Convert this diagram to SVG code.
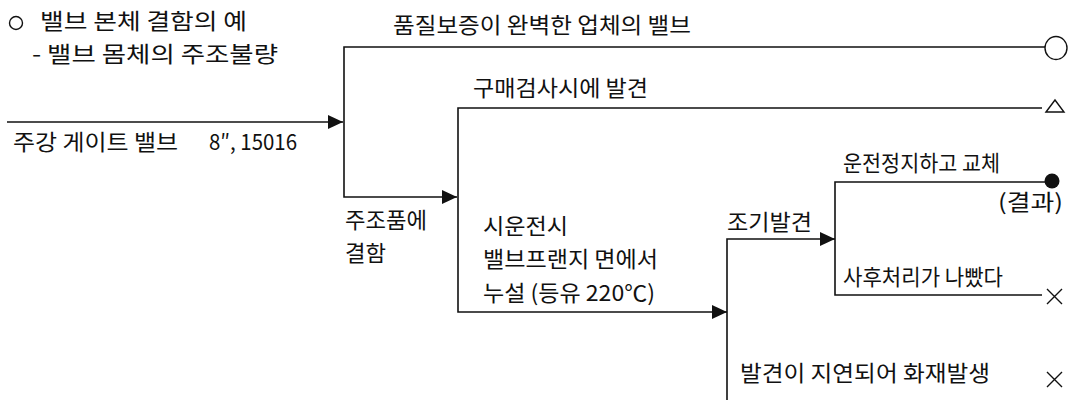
<svg xmlns="http://www.w3.org/2000/svg" width="1074" height="400" viewBox="0 0 1074 400">
<style>
.t{font-family:"Noto Sans CJK KR","Liberation Sans",sans-serif;font-size:22px;fill:#111}
.c{fill:none;stroke:#111;stroke-width:1.6}
.s{fill:none;stroke:#111;stroke-width:1.4}
</style>
<defs>
<marker id="ah" markerUnits="userSpaceOnUse" markerWidth="16" markerHeight="16" refX="15" refY="7" orient="auto">
<path d="M0,0 L15,7 L0,14 Z" fill="#111"/>
</marker>
</defs>
<rect width="1074" height="400" fill="#fff"/>
<g id="title">
<circle class="s" cx="16" cy="23" r="6.5"/>
<text class="t" x="40" y="29" textLength="207" lengthAdjust="spacingAndGlyphs">밸브 본체 결함의 예</text>
<text class="t" x="32" y="62" textLength="246" lengthAdjust="spacingAndGlyphs">- 밸브 몸체의 주조불량</text>
</g>
<g id="connectors">
<path class="c" d="M7,122 H343" marker-end="url(#ah)"/>
<path class="c" d="M1045,47 H344 V197 H457" marker-end="url(#ah)"/>
<path class="c" d="M1042,108 H458 V312 H727" marker-end="url(#ah)"/>
<path class="c" d="M727,400 V239 H835" marker-end="url(#ah)"/>
<path class="c" d="M1045,182 H835 V295 H1042"/>
</g>
<g id="n-input">
<text class="t" x="13" y="150" textLength="165" lengthAdjust="spacingAndGlyphs">주강 게이트 밸브</text>
<text class="t" x="209" y="150" textLength="88" lengthAdjust="spacingAndGlyphs">8″, 15016</text>
</g>
<g id="n-good">
<text class="t" x="393" y="33" textLength="298" lengthAdjust="spacingAndGlyphs">품질보증이 완벽한 업체의 밸브</text>
<ellipse class="s" cx="1056" cy="48" rx="11" ry="11.5"/>
</g>
<g id="n-defect">
<text class="t" x="345" y="228" textLength="82" lengthAdjust="spacingAndGlyphs">주조품에</text>
<text class="t" x="345" y="261" textLength="41" lengthAdjust="spacingAndGlyphs">결함</text>
</g>
<g id="n-inspect">
<text class="t" x="473" y="96" textLength="175" lengthAdjust="spacingAndGlyphs">구매검사시에 발견</text>
<path class="s" d="M1046,112 L1055,100 L1064,112 Z"/>
</g>
<g id="n-leak">
<text class="t" x="483" y="234" textLength="85" lengthAdjust="spacingAndGlyphs">시운전시</text>
<text class="t" x="483" y="267" textLength="175" lengthAdjust="spacingAndGlyphs">밸브프랜지 면에서</text>
<text class="t" x="483" y="301" textLength="172" lengthAdjust="spacingAndGlyphs">누설 (등유 220℃)</text>
</g>
<g id="n-early">
<text class="t" x="727" y="230" textLength="85" lengthAdjust="spacingAndGlyphs">조기발견</text>
</g>
<g id="n-stop">
<text class="t" x="843" y="171" textLength="157" lengthAdjust="spacingAndGlyphs">운전정지하고 교체</text>
<circle cx="1052" cy="181" r="7.5" fill="#111"/>
<text class="t" x="998" y="210" textLength="65" lengthAdjust="spacingAndGlyphs">(결과)</text>
</g>
<g id="n-after">
<text class="t" x="843" y="285" textLength="160" lengthAdjust="spacingAndGlyphs">사후처리가 나빴다</text>
<path class="s" d="M1047,289 L1062,304 M1062,289 L1047,304"/>
</g>
<g id="n-late">
<text class="t" x="740" y="381" textLength="250" lengthAdjust="spacingAndGlyphs">발견이 지연되어 화재발생</text>
<path class="s" d="M1047,372 L1062,387 M1062,372 L1047,387"/>
</g>
</svg>
